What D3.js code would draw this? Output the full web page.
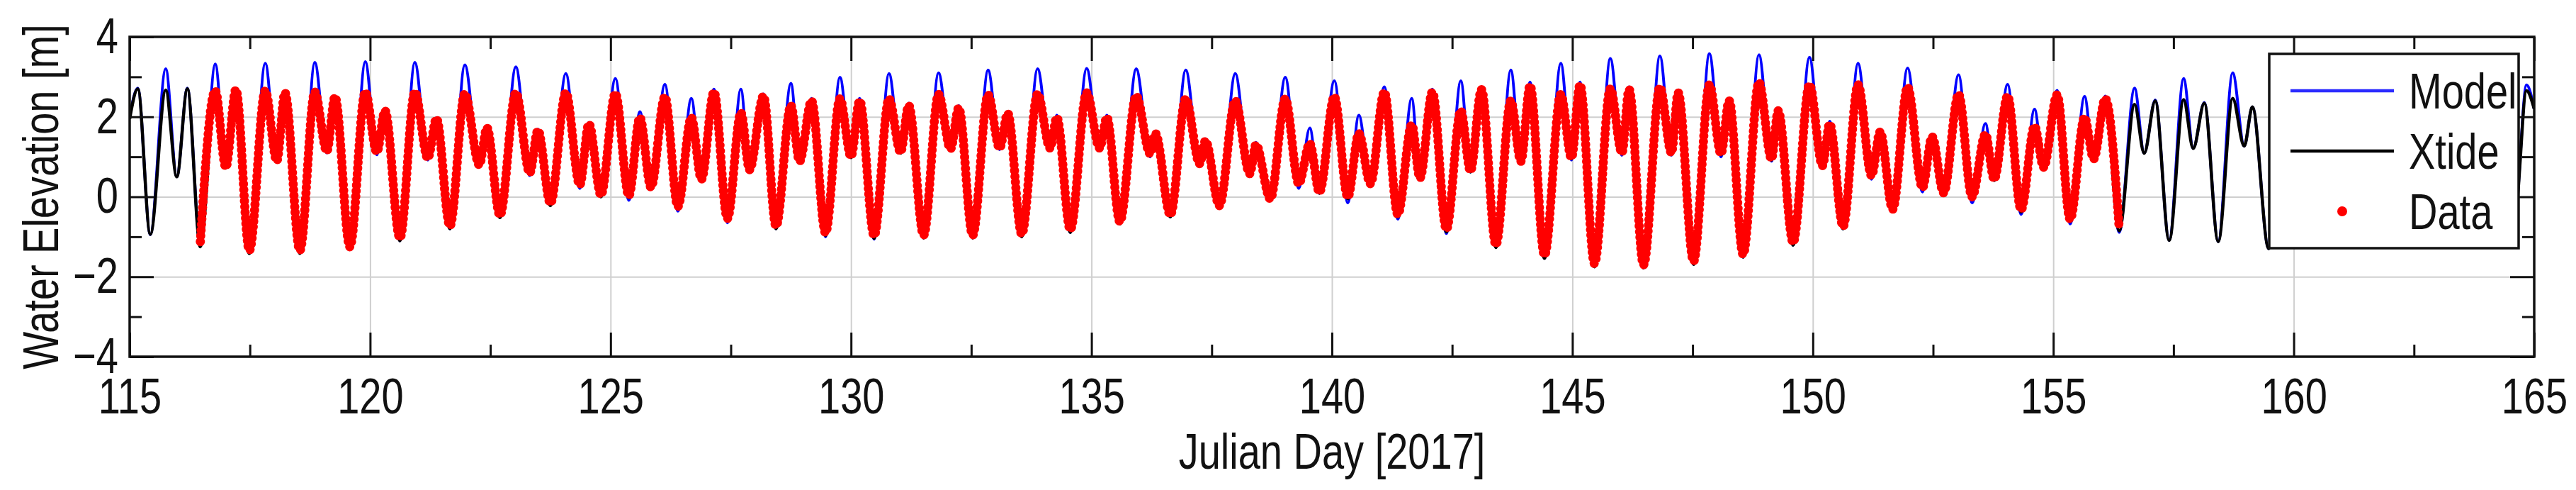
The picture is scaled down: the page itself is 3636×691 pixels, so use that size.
<!DOCTYPE html>
<meta charset="utf-8">

<style>
body { margin: 0; background: #fff; }

.axis text {
  font-family: "Liberation Sans", Arial, sans-serif;
  font-size: 70px;
  fill: #111;
}

.axis line {
  stroke: #111;
  stroke-width: 3px;
}

.grid line {
  stroke: #cfcfcf;
  stroke-width: 2px;
}

.label {
  font-family: "Liberation Sans", Arial, sans-serif;
  font-size: 70px;
  fill: #111;
}

.model { fill: none; stroke: #0000ff; stroke-width: 4px; }
.xtide { fill: none; stroke: #000; stroke-width: 4.5px; }
.data  { fill: none; stroke: #ff0000; stroke-width: 13px; stroke-linecap: round; stroke-dasharray: 0 8; }
</style>

<svg width="3636" height="691"></svg>
<script src="https://d3js.org/d3.v7.min.js"></script>

<script>
// extrema of the tide curves (julian day, elevation m)
var tideDay = [115.00, 115.17, 115.43, 115.75, 115.98, 116.20, 116.47, 116.78, 117.00, 117.21, 117.49, 117.82, 118.06, 118.23, 118.54, 118.85, 119.10, 119.27, 119.58, 119.90,
  120.14, 120.31, 120.62, 120.93, 121.20, 121.38, 121.66, 121.97, 122.27, 122.43, 122.70, 123.03, 123.32, 123.49, 123.75, 124.07, 124.36, 124.55, 124.80, 125.10,
  125.38, 125.61, 125.84, 126.13, 126.40, 126.68, 126.89, 127.15, 127.43, 127.71, 127.89, 128.18, 128.44, 128.75, 128.93, 129.18, 129.47, 129.77, 130.00, 130.18,
  130.48, 130.79, 131.03, 131.20, 131.51, 131.82, 132.07, 132.24, 132.53, 132.85, 133.09, 133.26, 133.55, 133.88, 134.14, 134.28, 134.56, 134.90, 135.17, 135.32,
  135.59, 135.93, 136.22, 136.33, 136.64, 136.96, 137.25, 137.37, 137.66, 137.99, 138.29, 138.42, 138.72, 139.03, 139.31, 139.54, 139.74, 140.05, 140.33, 140.56,
  140.80, 141.09, 141.37, 141.66, 141.83, 142.09, 142.38, 142.68, 142.88, 143.11, 143.41, 143.72, 143.93, 144.12, 144.42, 144.76, 144.98, 145.16, 145.46, 145.79,
  146.03, 146.18, 146.48, 146.82, 147.06, 147.20, 147.52, 147.85, 148.09, 148.26, 148.55, 148.88, 149.14, 149.28, 149.59, 149.93, 150.20, 150.35, 150.63, 150.94,
  151.22, 151.40, 151.66, 151.97, 152.28, 152.48, 152.72, 153.03, 153.31, 153.59, 153.77, 154.05, 154.33, 154.61, 154.80, 155.08, 155.35, 155.65, 155.84, 156.08,
  156.37, 156.69, 156.89, 157.12, 157.41, 157.71, 157.91, 158.14, 158.43, 158.73, 158.97, 159.14, 159.48, 159.78, 160.00, 160.17, 160.48, 160.80, 161.03, 161.20,
  161.51, 161.83, 162.06, 162.24, 162.55, 162.87, 163.10, 163.28, 163.58, 163.90, 164.13, 164.30, 164.60, 164.84, 165.00];

var modelElev = [2.00, 2.72, -0.95, 3.20, 0.50, 2.72, -1.20, 3.32, 0.72, 2.72, -1.40, 3.34, 0.86, 2.60, -1.40, 3.36, 1.10, 2.50, -1.30, 3.38,
  1.05, 2.18, -1.10, 3.36, 0.92, 1.98, -0.80, 3.30, 0.74, 1.75, -0.50, 3.25, 0.53, 1.69, -0.20, 3.08, 0.21, 1.86, 0.03, 2.96,
  -0.09, 2.13, 0.21, 2.81, -0.36, 2.46, 0.41, 2.69, -0.65, 2.69, 0.65, 2.57, -0.80, 2.84, 0.86, 2.46, -1.00, 2.99, 0.98, 2.46,
  -1.06, 3.08, 1.09, 2.34, -1.03, 3.10, 1.15, 2.28, -1.03, 3.17, 1.18, 2.13, -1.00, 3.20, 1.18, 2.04, -0.89, 3.21, 1.15, 2.04,
  -0.68, 3.20, 1.00, 1.63, -0.50, 3.17, 0.77, 1.45, -0.27, 3.08, 0.50, 1.36, -0.09, 2.99, 0.21, 1.72, 0.09, 2.90, -0.15, 2.04,
  0.30, 2.75, -0.56, 2.46, 0.44, 2.69, -0.92, 2.90, 0.62, 2.75, -1.27, 3.17, 0.86, 2.87, -1.54, 3.34, 0.92, 2.87, -1.75, 3.46,
  1.04, 2.75, -1.78, 3.52, 1.04, 2.66, -1.69, 3.58, 1.00, 2.46, -1.51, 3.55, 0.89, 2.22, -1.21, 3.49, 0.71, 1.89, -0.80, 3.34,
  0.44, 1.69, -0.36, 3.22, 0.12, 1.57, 0.06, 3.05, -0.15, 1.83, 0.41, 2.81, -0.44, 2.19, 0.71, 2.66, -0.68, 2.51, 0.92, 2.52,
  -0.89, 2.72, 1.09, 2.42, -1.09, 2.96, 1.21, 2.36, -1.12, 3.10, 1.27, 2.25, -1.30, 3.10, 1.30, 2.20, -1.15, 3.05, 1.30, 2.10,
  -1.00, 3.00, 1.25, 2.00, -0.80, 2.95, 1.15, 1.90, -0.60, 2.85, 1.00, 1.80, -0.40, 2.80, 2.20];

var xtideElev = [1.95, 2.70, -0.94, 2.67, 0.50, 2.70, -1.25, 2.65, 0.72, 2.68, -1.42, 2.65, 0.88, 2.60, -1.42, 2.62, 1.12, 2.50, -1.32, 2.62,
  1.10, 2.15, -1.10, 2.62, 0.95, 1.95, -0.80, 2.58, 0.78, 1.72, -0.52, 2.60, 0.58, 1.66, -0.22, 2.60, 0.28, 1.82, 0.00, 2.58,
  -0.02, 1.98, 0.20, 2.50, -0.30, 1.98, 0.41, 2.62, -0.60, 2.10, 0.65, 2.52, -0.80, 2.28, 0.86, 2.40, -0.97, 2.45, 0.98, 2.40,
  -1.04, 2.45, 1.09, 2.28, -1.03, 2.56, 1.18, 2.22, -1.03, 2.55, 1.20, 2.08, -1.00, 2.57, 1.20, 1.98, -0.89, 2.60, 1.20, 1.98,
  -0.68, 2.52, 1.05, 1.58, -0.50, 2.45, 0.80, 1.40, -0.27, 2.40, 0.55, 1.30, -0.09, 2.45, 0.30, 1.33, 0.09, 2.50, -0.05, 1.58,
  0.30, 2.62, -0.50, 1.80, 0.44, 2.62, -0.88, 2.15, 0.62, 2.68, -1.27, 2.40, 0.86, 2.78, -1.54, 2.56, 0.95, 2.80, -1.75, 2.70,
  1.08, 2.68, -1.78, 2.74, 1.08, 2.60, -1.69, 2.80, 1.05, 2.40, -1.51, 2.86, 0.92, 2.15, -1.21, 2.80, 0.75, 1.82, -0.80, 2.80,
  0.50, 1.62, -0.36, 2.74, 0.20, 1.50, 0.06, 2.56, -0.05, 1.56, 0.41, 2.52, -0.38, 1.76, 0.71, 2.55, -0.62, 1.98, 0.92, 2.45,
  -0.85, 2.31, 1.09, 2.40, -1.09, 2.43, 1.21, 2.34, -1.12, 2.46, 1.27, 2.25, -1.30, 2.48, 1.30, 2.20, -1.15, 2.50, 1.30, 2.10,
  -1.00, 2.50, 1.25, 2.00, -0.80, 2.50, 1.15, 1.90, -0.60, 2.50, 1.00, 1.80, -0.40, 2.65, 2.20];

// measured gauge data, extrema only (days 116.5 - 156.4)
var dataDay = [116.47, 116.78, 117.00, 117.21, 117.49, 117.82, 118.06, 118.23, 118.54, 118.85, 119.10, 119.27, 119.58, 119.90,
  120.14, 120.31, 120.62, 120.93, 121.20, 121.38, 121.66, 121.97, 122.27, 122.43, 122.70, 123.03, 123.32, 123.49, 123.75, 124.07, 124.36, 124.55, 124.80, 125.10,
  125.38, 125.61, 125.84, 126.13, 126.40, 126.68, 126.89, 127.15, 127.43, 127.71, 127.89, 128.18, 128.44, 128.75, 128.93, 129.18, 129.47, 129.77, 130.00, 130.18,
  130.48, 130.79, 131.03, 131.20, 131.51, 131.82, 132.07, 132.24, 132.53, 132.85, 133.09, 133.26, 133.55, 133.88, 134.14, 134.28, 134.56, 134.90, 135.17, 135.32,
  135.59, 135.93, 136.22, 136.33, 136.64, 136.96, 137.25, 137.37, 137.66, 137.99, 138.29, 138.42, 138.72, 139.03, 139.31, 139.54, 139.74, 140.05, 140.33, 140.56,
  140.80, 141.09, 141.37, 141.66, 141.83, 142.09, 142.38, 142.68, 142.88, 143.11, 143.41, 143.72, 143.93, 144.12, 144.42, 144.76, 144.98, 145.16, 145.46, 145.79,
  146.03, 146.18, 146.48, 146.82, 147.06, 147.20, 147.52, 147.85, 148.09, 148.26, 148.55, 148.88, 149.14, 149.28, 149.59, 149.93, 150.20, 150.35, 150.63, 150.94,
  151.22, 151.40, 151.66, 151.97, 152.28, 152.48, 152.72, 153.03, 153.31, 153.59, 153.77, 154.05, 154.33, 154.61, 154.80, 155.08, 155.35, 155.65, 155.84, 156.08,
  156.37];

var dataElev = [-1.12, 2.65, 0.74, 2.68, -1.34, 2.65, 0.90, 2.60, -1.34, 2.62, 1.14, 2.50, -1.25, 2.62,
  1.12, 2.15, -1.03, 2.62, 0.97, 1.95, -0.73, 2.58, 0.80, 1.72, -0.46, 2.60, 0.60, 1.66, -0.16, 2.60, 0.30, 1.82, 0.05, 2.58,
  0.03, 1.98, 0.24, 2.50, -0.24, 1.98, 0.44, 2.62, -0.54, 2.10, 0.68, 2.52, -0.73, 2.28, 0.89, 2.40, -0.90, 2.45, 1.01, 2.40,
  -0.97, 2.45, 1.12, 2.28, -0.96, 2.56, 1.20, 2.22, -0.96, 2.55, 1.22, 2.08, -0.93, 2.57, 1.22, 1.98, -0.82, 2.60, 1.22, 1.98,
  -0.62, 2.52, 1.08, 1.58, -0.45, 2.45, 0.83, 1.40, -0.22, 2.40, 0.58, 1.30, -0.05, 2.45, 0.33, 1.33, 0.12, 2.50, 0.00, 1.58,
  0.33, 2.62, -0.44, 1.80, 0.47, 2.62, -0.81, 2.15, 0.65, 2.68, -1.20, 2.40, 0.89, 2.78, -1.46, 2.56, 0.98, 2.80, -1.67, 2.70,
  1.10, 2.68, -1.70, 2.74, 1.10, 2.60, -1.61, 2.80, 1.08, 2.40, -1.44, 2.86, 0.95, 2.15, -1.14, 2.80, 0.78, 1.82, -0.74, 2.80,
  0.53, 1.62, -0.31, 2.74, 0.23, 1.50, 0.10, 2.56, 0.00, 1.56, 0.44, 2.52, -0.32, 1.76, 0.74, 2.55, -0.56, 1.98, 0.95, 2.45,
  -0.78];

var xMajor = [115, 120, 125, 130, 135, 140, 145, 150, 155, 160, 165],
    xMinor = [117.5, 122.5, 127.5, 132.5, 137.5, 142.5, 147.5, 152.5, 157.5, 162.5],
    yMajor = [-4, -2, 0, 2, 4],
    yMinor = [-3, -1, 1, 3];

var legendNames = ["Model", "Xtide", "Data"];

var svg = d3.select("svg"),
    margin = {top: 52, right: 59, bottom: 188, left: 183},
    width = +svg.attr("width") - margin.left - margin.right,
    height = +svg.attr("height") - margin.top - margin.bottom,
    squeeze = 0.8;   // the original font is a narrow sans

svg.append("rect").attr("width", 3636).attr("height", 691).attr("fill", "#fff");

var g = svg.append("g").attr("transform", "translate(" + margin.left + "," + margin.top + ")");

var x = d3.scaleLinear().domain([115, 165]).range([0, width]),
    y = d3.scaleLinear().domain([-4, 4]).range([height, 0]);

svg.append("defs").append("clipPath").attr("id", "plotclip")
  .append("rect").attr("width", width).attr("height", height);

// grid
g.append("g")
    .attr("class", "grid")
    .attr("transform", "translate(0," + height + ")")
    .call(d3.axisBottom(x).tickValues(xMajor.slice(1, -1)).tickSize(-height).tickFormat(""))
    .select(".domain").remove();

g.append("g")
    .attr("class", "grid")
    .call(d3.axisLeft(y).tickValues(yMajor.slice(1, -1)).tickSize(-width).tickFormat(""))
    .select(".domain").remove();

// curves
var tideLine = d3.line()
    .curve(d3.curveMonotoneX)
    .x(function(d) { return x(d[0]); })
    .y(function(d) { return y(d[1]); });

var plot = g.append("g").attr("clip-path", "url(#plotclip)");

plot.append("path")
    .attr("class", "model")
    .attr("d", tideLine(d3.zip(tideDay, modelElev)));

plot.append("path")
    .attr("class", "xtide")
    .attr("d", tideLine(d3.zip(tideDay, xtideElev)));

plot.append("path")
    .attr("class", "data")
    .attr("d", tideLine(d3.zip(dataDay, dataElev)));

// axes, ticks pointing inward on all four sides
function axisGroup(axis, tx, ty) {
  var a = g.append("g")
      .attr("class", "axis")
      .attr("transform", "translate(" + tx + "," + ty + ")")
      .attr("font-family", null)
      .attr("font-size", null)
      .call(axis);
  a.select(".domain").remove();
  return a;
}

axisGroup(d3.axisBottom(x).tickValues(xMajor).tickSize(-34).tickPadding(30).tickFormat(d3.format("d")), 0, height)
    .selectAll("text").attr("transform", "scale(" + squeeze + ",1)");
axisGroup(d3.axisBottom(x).tickValues(xMinor).tickSize(-17).tickFormat(""), 0, height);
axisGroup(d3.axisTop(x).tickValues(xMajor).tickSize(-34).tickFormat(""), 0, 0);
axisGroup(d3.axisTop(x).tickValues(xMinor).tickSize(-17).tickFormat(""), 0, 0);

axisGroup(d3.axisLeft(y).tickValues(yMajor).tickSize(-34).tickPadding(20).tickFormat(d3.format("d")), 0, 0)
    .selectAll("text").attr("transform", "scale(" + squeeze + ",1)");
axisGroup(d3.axisLeft(y).tickValues(yMinor).tickSize(-17).tickFormat(""), 0, 0);
axisGroup(d3.axisRight(y).tickValues(yMajor).tickSize(-34).tickFormat(""), width, 0);
axisGroup(d3.axisRight(y).tickValues(yMinor).tickSize(-17).tickFormat(""), width, 0);

g.append("rect")
    .attr("width", width)
    .attr("height", height)
    .attr("fill", "none")
    .attr("stroke", "#111")
    .attr("stroke-width", 3.5);

// axis titles
svg.append("text")
    .attr("class", "label")
    .attr("text-anchor", "middle")
    .attr("transform", "translate(" + (margin.left + width / 2) + ",661) scale(" + squeeze + ",1)")
    .text("Julian Day [2017]");

svg.append("text")
    .attr("class", "label")
    .attr("text-anchor", "middle")
    .attr("transform", "translate(82," + (margin.top + height / 2) + ") rotate(-90) scale(" + squeeze + ",1)")
    .text("Water Elevation [m]");

// legend
var legend = g.append("g").attr("transform", "translate(" + (3203 - margin.left) + "," + (76 - margin.top) + ")");

legend.append("rect")
    .attr("width", 352)
    .attr("height", 274)
    .attr("fill", "#fff")
    .attr("stroke", "#111")
    .attr("stroke-width", 3.5);

var entry = legend.selectAll(".entry")
    .data(legendNames)
  .enter().append("g")
    .attr("class", "entry")
    .attr("transform", function(d, i) { return "translate(0," + (52 + i * 85) + ")"; });

entry.filter(function(d) { return d != "Data"; })
  .append("line")
    .attr("x1", 30)
    .attr("x2", 176)
    .attr("stroke", function(d) { return d == "Model" ? "#2b2bff" : "#000"; })
    .attr("stroke-width", 4.5);

entry.filter(function(d) { return d == "Data"; })
  .append("circle")
    .attr("cx", 103)
    .attr("r", 7)
    .attr("fill", "#ff0000");

entry.append("text")
    .attr("class", "label")
    .attr("transform", "translate(197,25) scale(" + squeeze + ",1)")
    .text(function(d) { return d; });
</script>
